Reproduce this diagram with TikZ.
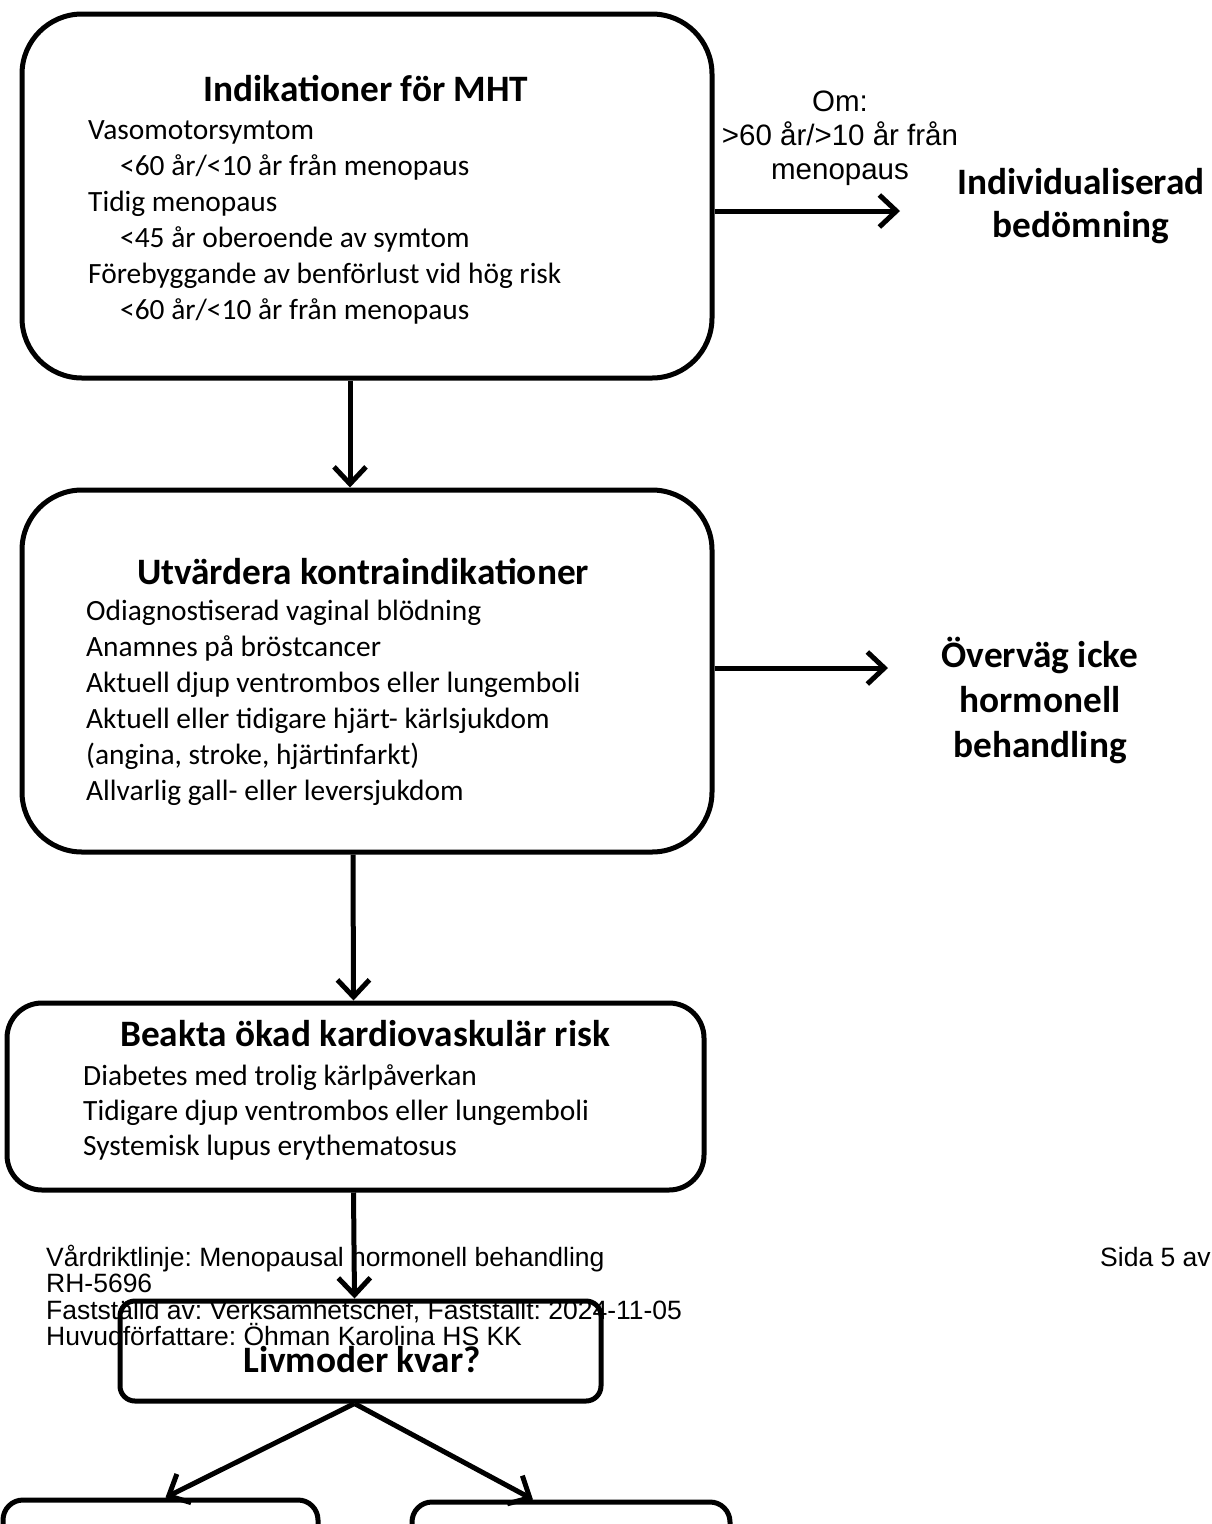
\documentclass[tikz,border=0pt]{standalone}
\usepackage{fontspec}
\setmainfont{Carlito}
\newfontfamily\arialfont{Liberation Sans}
\usetikzlibrary{arrows.meta, positioning}
\frenchspacing

\tikzset{
  flowbox/.style={draw, line width=5pt, inner sep=0pt},
  flowarrow/.style={line width=5pt, -{Straight Barb[length=17pt, width=32pt, line width=5pt]}},
  headtext/.style={font=\fontsize{37.3}{43}\selectfont\bfseries, inner sep=0pt, align=center},
  bodytext/.style={font=\fontsize{29.4}{36}\selectfont, inner sep=0pt, align=left, anchor=base west},
  sidetext/.style={font=\arialfont\fontsize{29.5}{34}\selectfont, inner sep=0pt, align=center},
  foottext/.style={font=\arialfont\fontsize{26.5}{26.4}\selectfont, inner sep=0pt, align=left, anchor=base west}
}

\begin{document}
\begin{tikzpicture}[x=1pt, y=-1pt]
        \useasboundingbox (0,0) rectangle (1211,1524);
        \clip (0,0) rectangle (1211,1524);
        % footer of the page (anchored at the last line)
        \node[foottext] (foot) at (46,1345.5) {V\aa rdriktlinje: Menopausal hormonell behandling\\RH-5696\\Fastst\"alld av: Verksamhetschef, Fastst\"allt: 2024-11-05\\Huvudf\"orfattare: \"Ohman Karolina HS KK};
        \node[foottext] (sida) at (1100,1266) {Sida 5 av};
        % boxes
        \node[flowbox, rounded corners=60pt, minimum width=690pt, minimum height=364pt] (ind) at (367,196) {};
        \node[flowbox, rounded corners=60pt, minimum width=690pt, minimum height=362pt] (kontra) at (367,671) {};
        \node[flowbox, rounded corners=35pt, minimum width=697pt, minimum height=187pt] (kardio) at (355.5,1096.5) {};
        \node[flowbox, rounded corners=15pt, minimum width=481pt, minimum height=100pt] (livmoder) at (360.5,1351) {};
        \node[flowbox, rounded corners=20pt, minimum width=315pt, minimum height=100pt] (kvar) at (160.5,1550) {};
        \node[flowbox, rounded corners=20pt, minimum width=318pt, minimum height=100pt] (ejkvar) at (571,1552) {};
        % texts in the boxes (body texts anchored at their last line)
        \node[headtext, anchor=base] (indhead) at (366,101) {Indikationer f\"or MHT};
        \node[bodytext] (indbody) at (88,319) {Vasomotorsymtom\\\hspace*{32pt}<60 \aa r/<10 \aa r fr\aa n menopaus\\Tidig menopaus\\\hspace*{32pt}<45 \aa r oberoende av symtom\\F\"orebyggande av benf\"orlust vid h\"og risk\\\hspace*{32pt}<60 \aa r/<10 \aa r fr\aa n menopaus};
        \node[headtext, anchor=base] (kontrahead) at (363,584) {Utv\"ardera kontraindikationer};
        \node[bodytext] (kontrabody) at (86,800) {Odiagnostiserad vaginal bl\"odning\\Anamnes p\aa{} br\"ostcancer\\Aktuell djup ventrombos eller lungemboli\\Aktuell eller tidigare hj\"art- k\"arlsjukdom\\(angina, stroke, hj\"artinfarkt)\\Allvarlig gall- eller leversjukdom};
        \node[headtext, anchor=base] (kardiohead) at (365,1046) {Beakta \"okad kardiovaskul\"ar risk};
        \node[bodytext, font=\fontsize{29.4}{35}\selectfont] (kardiobody) at (83,1155) {Diabetes med trolig k\"arlp\aa verkan\\Tidigare djup ventrombos eller lungemboli\\Systemisk lupus erythematosus};
        \node[headtext, anchor=base] (livmoderhead) at (362,1372) {Livmoder kvar?};
        % texts to the right
        \node[sidetext, anchor=base] (om) at (840,179) {Om:\\>60 \aa r/>10 \aa r fr\aa n\\menopaus};
        \node[headtext, anchor=base] (indiv) at (1081,237) {Individualiserad\\bed\"omning};
        \node[headtext, anchor=base, font=\fontsize{37.3}{45}\selectfont\bfseries] (overvag) at (1040,757) {\"Overv\"ag icke\\hormonell\\behandling};
        % arrows
        \coordinate (indtip) at (900,211);
        \coordinate (kontratip) at (888,668);
        \draw[flowarrow] ([yshift=-15pt]ind.east) -- (indtip);
        \draw[flowarrow] ([yshift=3pt]kontra.east) -- (kontratip);
        \draw[flowarrow] ([xshift=-17pt]ind.south) -- ([xshift=-17pt]kontra.north);
        \draw[flowarrow] ([xshift=-14pt]kontra.south) -- ([xshift=-2pt]kardio.north);
        \draw[flowarrow] ([xshift=-2pt]kardio.south) -- ([xshift=-6pt]livmoder.north);
        \draw[flowarrow] ([xshift=-6pt]livmoder.south) -- ([xshift=5pt]kvar.north);
        \draw[flowarrow] ([xshift=-6pt]livmoder.south) -- ([xshift=-38pt]ejkvar.north);
\end{tikzpicture}
\end{document}
